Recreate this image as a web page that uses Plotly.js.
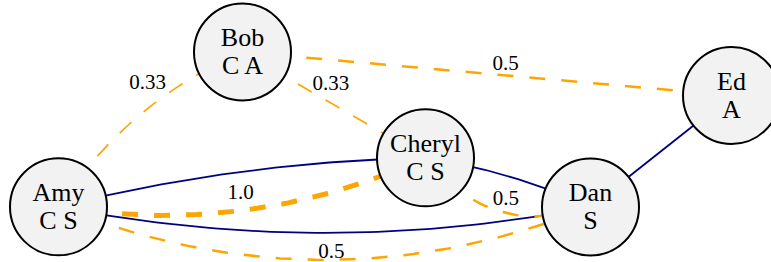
<!DOCTYPE html>
<html>
<head>
<meta charset="utf-8">
<script src="https://cdn.plot.ly/plotly-3.0.1.min.js"></script>
<style>
  html, body { margin: 0; padding: 0; background: #ffffff; }
  #chart { width: 771px; height: 262px; }
</style>
</head>
<body>
<div id="chart"></div>
<script>
// ---- Data ----
const nodeNames = ["Amy", "Bob", "Cheryl", "Dan", "Ed"];
const nodeAttrs = ["C S", "C A", "C S", "S", "A"];
const nodeX = [58.5, 242.5, 425.5, 590.5, 731.5];
const nodeY = [206.8, 52, 157.8, 207, 95.5];

const edgeSource   = ["Amy", "Bob", "Bob", "Amy", "Amy", "Amy", "Amy", "Cheryl", "Cheryl", "Dan"];
const edgeTarget   = ["Bob", "Cheryl", "Ed", "Cheryl", "Cheryl", "Dan", "Dan", "Dan", "Dan", "Ed"];
const edgeRelation = ["weighted", "weighted", "weighted", "link", "weighted", "link", "weighted", "link", "weighted", "link"];
const edgeWeight   = [0.33, 0.33, 0.5, null, 1.0, null, 0.5, null, 0.5, null];
const edgeLabels   = ["0.33", "0.33", "0.5", "", "1.0", "", "0.5", "", "0.5", ""];

// ---- Styling (geometry of curves / label placement) ----
const style = {
  bend:        [-36, 0, 0, -21, 56, 52, 106, -12, 60, 0],
  labelOffset: [[8.6, -32.3], [-3.2, -19.9], [18.5, -9.3], null, [-5.2, -16.1], null, [7, -7.2], null, [6.4, -11.1], null],
  orange: "#FFA500",
  navy: "#000080",
  dash: "16px,16px",
  font: "Liberation Serif, Times New Roman, serif",
  nodeSize: 97,
  nodeFill: "#f2f2f2",
  nameShift: -12.5,
  attrShift: 15.5
};

function nodeIndex(n) { return nodeNames.indexOf(n); }

function curve(i, steps) {
  const a = nodeIndex(edgeSource[i]), b = nodeIndex(edgeTarget[i]);
  const x0 = nodeX[a], y0 = nodeY[a], x1 = nodeX[b], y1 = nodeY[b];
  const dx = x1 - x0, dy = y1 - y0, len = Math.hypot(dx, dy);
  const nx = -dy / len, ny = dx / len;
  const mx = (x0 + x1) / 2, my = (y0 + y1) / 2;
  const cx = mx + nx * style.bend[i], cy = my + ny * style.bend[i];
  const xs = [], ys = [];
  for (let k = 0; k <= steps; k++) {
    const t = k / steps, u = 1 - t;
    xs.push(u * u * x0 + 2 * u * t * cx + t * t * x1);
    ys.push(u * u * y0 + 2 * u * t * cy + t * t * y1);
  }
  return { xs, ys };
}

const traces = [];
for (let i = 0; i < edgeSource.length; i++) {
  const c = curve(i, 60);
  const weighted = edgeRelation[i] === "weighted";
  traces.push({
    type: "scatter", mode: "lines", x: c.xs, y: c.ys, hoverinfo: "skip",
    line: weighted
      ? { color: style.orange, width: 5 * edgeWeight[i], dash: style.dash }
      : { color: style.navy, width: 1.8 }
  });
}

// edge labels
const lx = [], ly = [], lt = [];
for (let i = 0; i < edgeSource.length; i++) {
  if (!edgeLabels[i]) continue;
  const c = curve(i, 2);
  lx.push(c.xs[1] + style.labelOffset[i][0]);
  ly.push(c.ys[1] + style.labelOffset[i][1]);
  lt.push(edgeLabels[i]);
}

// nodes
traces.push({
  type: "scatter", mode: "markers", x: nodeX, y: nodeY, hoverinfo: "skip",
  marker: { size: style.nodeSize, color: style.nodeFill, line: { color: "#000000", width: 2 } }
});
traces.push({
  type: "scatter", mode: "text", x: nodeX, y: nodeY.map(v => v + style.nameShift),
  text: nodeNames, textposition: "middle center", hoverinfo: "skip",
  textfont: { family: style.font, size: 26, color: "#000000" }
});
traces.push({
  type: "scatter", mode: "text", x: nodeX, y: nodeY.map(v => v + style.attrShift),
  text: nodeAttrs, textposition: "middle center", hoverinfo: "skip",
  textfont: { family: style.font, size: 26, color: "#000000" }
});
traces.push({
  type: "scatter", mode: "text", x: lx, y: ly, text: lt, cliponaxis: false,
  textposition: "middle center", hoverinfo: "skip",
  textfont: { family: style.font, size: 21, color: "#000000" }
});

const layout = {
  width: 771, height: 262,
  margin: { l: 0, r: 0, t: 0, b: 0, pad: 0 },
  paper_bgcolor: "#ffffff", plot_bgcolor: "#ffffff",
  showlegend: false,
  xaxis: { range: [0, 771], visible: false, fixedrange: true },
  yaxis: { range: [262, 0], visible: false, fixedrange: true }
};

Plotly.newPlot("chart", traces, layout, { staticPlot: true, displayModeBar: false });
</script>
</body>
</html>
